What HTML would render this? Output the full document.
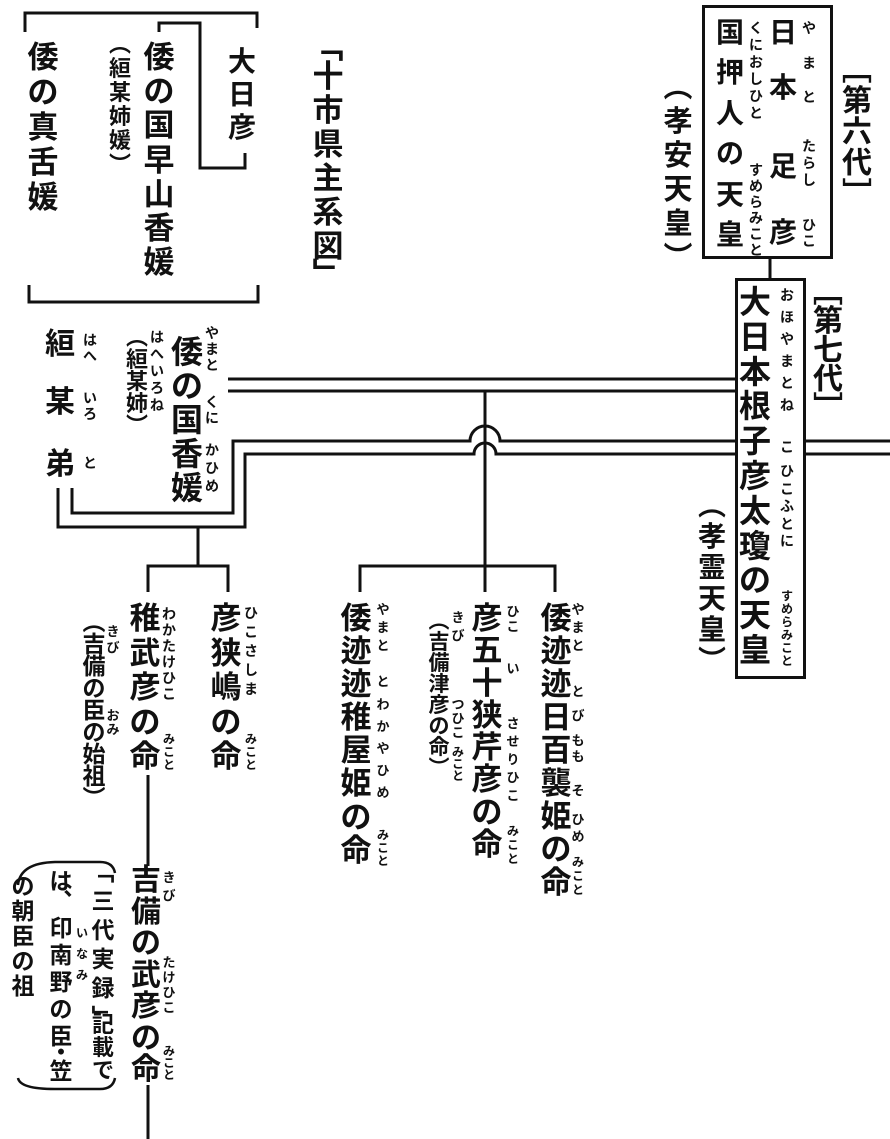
<!DOCTYPE html>
<html><head><meta charset="utf-8">
<style>
html,body{margin:0;padding:0;background:#fff;}
#w{position:relative;width:890px;height:1139px;overflow:hidden;background:#fff;}
.v{position:absolute;width:44px;margin-left:-22px;text-align:center;font-family:"Liberation Sans","Noto Sans CJK JP",sans-serif;font-weight:700;color:#111;white-space:nowrap;}
.box{position:absolute;border:3px solid #111;background:#fff;box-sizing:border-box;}
svg{position:absolute;left:0;top:0;}
</style></head><body><div id="w">
<svg width="890" height="1139" viewBox="0 0 890 1139" fill="none" stroke="#111" stroke-width="3">
<!-- top-left brackets -->
<path d="M25 32 V13 H257 V28"/>
<path d="M29 285 V302 H258 V285"/>
<path d="M159 32 V23 H200 V168 H245 V153"/>
<!-- upper pair -->
<path d="M228 379 H736"/>
<path d="M228 391 H736"/>
<!-- lower pair with hump -->
<path d="M890 441 H500 A15 15 0 0 0 470 441 H233 V513 H72 V488"/>
<path d="M890 454 H496 A11 11 0 0 0 474 454 H245 V527 H58 V488"/>
<!-- center connectors -->
<path d="M485 391 V592"/>
<path d="M360 592 V566 H555 V592"/>
<path d="M198 527 V566"/>
<path d="M148 592 V566 H228 V592"/>
<path d="M148 775 V866"/>
<path d="M148 1085 V1139"/>
<!-- box connector -->
<path d="M770 258 V279"/>
<!-- note arcs -->
<path d="M18 885 Q20 863 55 862 L100 862 Q113 862 115 873" stroke-width="2.5"/>
<path d="M18 1078 Q20 1089 55 1089 L100 1089 Q113 1089 115 1078" stroke-width="2.5"/>
</svg>

<div class="box" style="left:702px;top:5px;width:131px;height:254px;"></div>
<div class="box" style="left:735px;top:278px;width:71px;height:401px;"></div>

<!-- top-left -->
<div class="v" style="left:242px;top:45px;font-size:28px;line-height:33px;">大<br>日<br>彦</div>
<div class="v" style="left:159px;top:41px;font-size:31px;line-height:34.2px;">倭<br>の<br>国<br>早<br>山<br>香<br>媛</div>
<div class="v" style="left:120px;top:33px;font-size:22px;line-height:24px;">︵<br>絙<br>某<br>姉<br>媛<br>︶</div>
<div class="v" style="left:43px;top:40px;font-size:31px;line-height:35px;">倭<br>の<br>真<br>舌<br>媛</div>
<div class="v" style="left:328px;top:31px;font-size:31px;line-height:34px;">﹁</div>
<div class="v" style="left:328px;top:60px;font-size:31px;line-height:34px;">十<br>市<br>県<br>主<br>系<br>図</div>
<div class="v" style="left:328px;top:258px;font-size:31px;line-height:34px;">﹂</div>

<!-- middle left -->
<div class="v" style="left:60px;top:328px;font-size:30px;line-height:34px;">絙</div>
<div class="v" style="left:60px;top:386px;font-size:30px;line-height:34px;">某</div>
<div class="v" style="left:60px;top:448px;font-size:30px;line-height:34px;">弟</div>
<div class="v" style="left:90px;top:332px;font-size:14px;line-height:16px;">は<br>へ</div>
<div class="v" style="left:90px;top:390px;font-size:14px;line-height:16px;">い<br>ろ</div>
<div class="v" style="left:90px;top:455px;font-size:14px;line-height:16px;">と</div>
<div class="v" style="left:137px;top:327px;font-size:22px;line-height:22px;">︵<br>絙<br>某<br>姉<br>︶</div>
<div class="v" style="left:157px;top:329px;font-size:14px;line-height:17px;">は<br>へ<br>い<br>ろ<br>ね</div>
<div class="v" style="left:187px;top:335px;font-size:32px;line-height:34px;">倭<br>の<br>国<br>香<br>媛</div>
<div class="v" style="left:212px;top:325px;font-size:14px;line-height:16px;">や<br>ま<br>と</div>
<div class="v" style="left:212px;top:394px;font-size:14px;line-height:16px;">く<br>に</div>
<div class="v" style="left:212px;top:441px;font-size:14px;line-height:18px;">か<br>ひ<br>め</div>

<!-- box6 -->
<div class="v" style="left:730px;top:13px;font-size:28px;line-height:40.4px;">国<br>押<br>人<br>の<br>天<br>皇</div>
<div class="v" style="left:756px;top:20px;font-size:14px;line-height:17px;">く<br>に<br>お<br>し<br>ひ<br>と</div>
<div class="v" style="left:756px;top:162px;font-size:14px;line-height:16px;">す<br>め<br>ら<br>み<br>こ<br>と</div>
<div class="v" style="left:783px;top:17px;font-size:28px;line-height:32px;">日</div>
<div class="v" style="left:783px;top:72px;font-size:28px;line-height:32px;">本</div>
<div class="v" style="left:783px;top:151px;font-size:28px;line-height:32px;">足</div>
<div class="v" style="left:783px;top:217px;font-size:28px;line-height:32px;">彦</div>
<div class="v" style="left:809px;top:20px;font-size:14px;line-height:16px;">や</div>
<div class="v" style="left:809px;top:55px;font-size:14px;line-height:16px;">ま</div>
<div class="v" style="left:809px;top:89px;font-size:14px;line-height:16px;">と</div>
<div class="v" style="left:809px;top:138px;font-size:14px;line-height:17px;">た<br>ら<br>し</div>
<div class="v" style="left:809px;top:217px;font-size:14px;line-height:16px;">ひ<br>こ</div>
<div class="v" style="left:857px;top:55px;font-size:30px;line-height:31px;">﹇<br>第<br>六<br>代<br>﹈</div>
<div class="v" style="left:678px;top:71px;font-size:29px;line-height:34px;">︵<br>孝<br>安<br>天<br>皇<br>︶</div>

<!-- box7 -->
<div class="v" style="left:755px;top:285px;font-size:32px;line-height:34.8px;">大<br>日<br>本<br>根<br>子<br>彦<br>太<br>瓊<br>の<br>天<br>皇</div>
<div class="v" style="left:787px;top:284px;font-size:14px;line-height:22px;">お<br>ほ<br>や<br>ま<br>と<br>ね</div>
<div class="v" style="left:787px;top:438px;font-size:14px;line-height:18px;">こ</div>
<div class="v" style="left:787px;top:463px;font-size:14px;line-height:17.5px;">ひ<br>こ<br>ふ<br>と<br>に</div>
<div class="v" style="left:787px;top:590px;font-size:12px;line-height:13px;">す<br>め<br>ら<br>み<br>こ<br>と</div>
<div class="v" style="left:828px;top:278px;font-size:30px;line-height:29px;">﹇<br>第<br>七<br>代<br>﹈</div>
<div class="v" style="left:712px;top:490px;font-size:28px;line-height:31px;">︵<br>孝<br>霊<br>天<br>皇<br>︶</div>

<!-- children left -->
<div class="v" style="left:145px;top:602px;font-size:31px;line-height:34.5px;">稚<br>武<br>彦<br>の<br>命</div>
<div class="v" style="left:169px;top:606px;font-size:14px;line-height:16px;">わ<br>か<br>た<br>け<br>ひ<br>こ</div>
<div class="v" style="left:169px;top:733px;font-size:12px;line-height:13px;">み<br>こ<br>と</div>
<div class="v" style="left:94px;top:611px;font-size:23px;line-height:22px;">︵<br>吉<br>備<br>の<br>臣<br>の<br>始<br>祖<br>︶</div>
<div class="v" style="left:113px;top:624px;font-size:13px;line-height:16px;">き<br>び</div>
<div class="v" style="left:113px;top:709px;font-size:13px;line-height:14px;">お<br>み</div>
<div class="v" style="left:226px;top:602px;font-size:31px;line-height:34.5px;">彦<br>狭<br>嶋<br>の<br>命</div>
<div class="v" style="left:251px;top:604px;font-size:14px;line-height:19px;">ひ<br>こ<br>さ<br>し<br>ま</div>
<div class="v" style="left:251px;top:733px;font-size:12px;line-height:13px;">み<br>こ<br>と</div>

<div class="v" style="left:146px;top:865px;font-size:30px;line-height:31.5px;">吉<br>備<br>の<br>武<br>彦<br>の<br>命</div>
<div class="v" style="left:169px;top:869px;font-size:13px;line-height:18px;">き<br>び</div>
<div class="v" style="left:169px;top:955px;font-size:13px;line-height:15px;">た<br>け<br>ひ<br>こ</div>
<div class="v" style="left:169px;top:1045px;font-size:12px;line-height:12px;">み<br>こ<br>と</div>

<!-- note -->
<div class="v" style="left:103px;top:858px;font-size:23px;line-height:29px;">﹁<br>三<br>代<br>実<br>録<br>﹂</div>
<div class="v" style="left:103px;top:1013px;font-size:22px;line-height:23px;">記<br>載<br>で</div>
<div class="v" style="left:61px;top:871px;font-size:23px;line-height:20px;">は<br>︑</div>
<div class="v" style="left:61px;top:915px;font-size:23px;line-height:27px;">印<br>南<br>野<br>の<br>臣</div>
<div class="v" style="left:61px;top:1043px;font-size:23px;line-height:19px;">・<br>笠</div>
<div class="v" style="left:82px;top:923px;font-size:12px;line-height:21px;">い<br>な<br>み</div>
<div class="v" style="left:23px;top:874px;font-size:23px;line-height:25px;">の<br>朝<br>臣<br>の<br>祖</div>

<!-- children right -->
<div class="v" style="left:356px;top:602px;font-size:31px;line-height:33.1px;">倭<br>迹<br>迹<br>稚<br>屋<br>姫<br>の<br>命</div>
<div class="v" style="left:383px;top:601px;font-size:13px;line-height:18px;">や<br>ま<br>と</div>
<div class="v" style="left:383px;top:674px;font-size:13px;line-height:16px;">と</div>
<div class="v" style="left:383px;top:694px;font-size:13px;line-height:22px;">わ<br>か<br>や<br>ひ<br>め</div>
<div class="v" style="left:383px;top:829px;font-size:12px;line-height:13px;">み<br>こ<br>と</div>
<div class="v" style="left:439px;top:611px;font-size:21px;line-height:21px;">︵<br>吉<br>備<br>津<br>彦<br>の<br>命<br>︶</div>
<div class="v" style="left:458px;top:609px;font-size:13px;line-height:18px;">き<br>び</div>
<div class="v" style="left:458px;top:698px;font-size:13px;line-height:14px;">つ<br>ひ<br>こ</div>
<div class="v" style="left:458px;top:746px;font-size:12px;line-height:12px;">み<br>こ<br>と</div>
<div class="v" style="left:487px;top:603px;font-size:31px;line-height:32.3px;">彦<br>五<br>十<br>狭<br>芹<br>彦<br>の<br>命</div>
<div class="v" style="left:513px;top:604px;font-size:13px;line-height:15px;">ひ<br>こ</div>
<div class="v" style="left:513px;top:661px;font-size:13px;line-height:16px;">い</div>
<div class="v" style="left:513px;top:715px;font-size:13px;line-height:18px;">さ<br>せ<br>り<br>ひ<br>こ</div>
<div class="v" style="left:513px;top:824px;font-size:12px;line-height:14px;">み<br>こ<br>と</div>
<div class="v" style="left:556px;top:602px;font-size:31px;line-height:33px;">倭<br>迹<br>迹<br>日<br>百<br>襲<br>姫<br>の<br>命</div>
<div class="v" style="left:578px;top:601px;font-size:13px;line-height:18px;">や<br>ま<br>と</div>
<div class="v" style="left:578px;top:684px;font-size:13px;line-height:16px;">と</div>
<div class="v" style="left:578px;top:708px;font-size:13px;line-height:16px;">び</div>
<div class="v" style="left:578px;top:733px;font-size:13px;line-height:16px;">も<br>も</div>
<div class="v" style="left:578px;top:783px;font-size:13px;line-height:16px;">そ</div>
<div class="v" style="left:578px;top:811px;font-size:13px;line-height:17px;">ひ<br>め</div>
<div class="v" style="left:578px;top:855px;font-size:12px;line-height:14px;">み<br>こ<br>と</div>
</div></body></html>
